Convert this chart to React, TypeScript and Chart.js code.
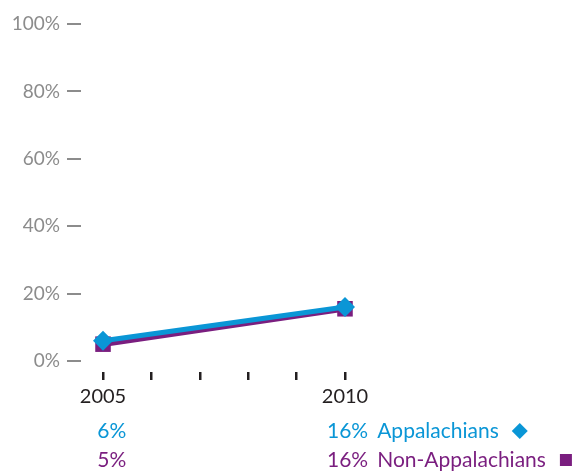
import React, { useEffect, useRef } from "react";
import { Chart, registerables } from "chart.js";

Chart.register(...registerables);

const years = [2005, 2010];
const appalachians = [6, 16];
const nonAppalachians = [5, 15.5];
const appLabels = ["6%", "16%"];
const nonAppLabels = ["5%", "16%"];
const seriesNames = ["Appalachians", "Non-Appalachians"];
const yTicks = [0, 20, 40, 60, 80, 100];

const BLUE = "#0a96d6";
const PURPLE = "#7a1e7f";
const GRAY = "#8c8c8c";
const DARK = "#231f20";
const FONT = "Lato, 'Open Sans', sans-serif";

const valuesPlugin = {
  id: "valuesPlugin",
  afterDraw(chart: any) {
    const ctx = chart.ctx;
    const xs = chart.scales.x;
    ctx.save();
    ctx.textBaseline = "alphabetic";
    years.forEach((yr, i) => {
      const px = xs.getPixelForValue(yr);
      ctx.font = `20px ${FONT}`;
      const w = ctx.measureText(String(yr)).width;
      const right = px + w / 2;
      ctx.font = `21px ${FONT}`;
      ctx.textAlign = "right";
      ctx.fillStyle = BLUE;
      ctx.fillText(appLabels[i], right, 438);
      ctx.fillStyle = PURPLE;
      ctx.fillText(nonAppLabels[i], right, 467);
      if (i === years.length - 1) {
        ctx.textAlign = "left";
        const x0 = right + 9;
        ctx.fillStyle = BLUE;
        ctx.fillText(seriesNames[0], x0, 438);
        const w1 = ctx.measureText(seriesNames[0]).width;
        ctx.fillStyle = PURPLE;
        ctx.fillText(seriesNames[1], x0, 467);
        const w2 = ctx.measureText(seriesNames[1]).width;
        const dx = x0 + w1 + 21;
        const dy = 431;
        const r = 8;
        ctx.fillStyle = BLUE;
        ctx.beginPath();
        ctx.moveTo(dx, dy - r);
        ctx.lineTo(dx + r, dy);
        ctx.lineTo(dx, dy + r);
        ctx.lineTo(dx - r, dy);
        ctx.closePath();
        ctx.fill();
        const sx = x0 + w2 + 14;
        ctx.fillStyle = PURPLE;
        ctx.fillRect(sx, 454, 12, 12);
      }
    });
    ctx.restore();
  },
};

export default function App() {
  const ref = useRef<HTMLCanvasElement | null>(null);
  useEffect(() => {
    if (!ref.current) return;
    const chart = new Chart(ref.current, {
      type: "line",
      data: {
        datasets: [
          {
            label: seriesNames[0],
            data: years.map((y, i) => ({ x: y, y: appalachians[i] })),
            borderColor: BLUE,
            backgroundColor: BLUE,
            borderWidth: 5,
            pointStyle: "rectRot",
            pointRadius: 10,
            pointBorderWidth: 0,
          },
          {
            label: seriesNames[1],
            data: years.map((y, i) => ({ x: y, y: nonAppalachians[i] })),
            borderColor: PURPLE,
            backgroundColor: PURPLE,
            borderWidth: 5.5,
            pointStyle: "rect",
            pointRadius: 11,
            pointBorderWidth: 0,
          },
        ],
      },
      options: {
        animation: false,
        responsive: true,
        maintainAspectRatio: false,
        layout: { padding: { top: 24, right: 215, bottom: 0, left: 0 } },
        plugins: { legend: { display: false }, tooltip: { enabled: false } },
        scales: {
          x: {
            type: "linear",
            min: 2004.545,
            max: 2010.31,
            afterFit: (s: any) => {
              s.height = 101;
            },
            border: { display: false },
            grid: {
              drawOnChartArea: false,
              drawTicks: true,
              tickLength: 8,
              tickColor: DARK,
              lineWidth: 2.5,
            },
            ticks: {
              stepSize: 1,
              includeBounds: false,
              autoSkip: false,
              maxRotation: 0,
              padding: 5,
              color: DARK,
              font: { family: FONT, size: 20 },
              callback: (v: any) => (years.includes(Number(v)) ? String(v) : ""),
            },
          },
          y: {
            min: -3.26,
            max: 100,
            afterFit: (s: any) => {
              s.width = 81;
            },
            afterBuildTicks: (s: any) => {
              s.ticks = yTicks.map((v) => ({ value: v }));
            },
            border: { display: false },
            grid: {
              drawOnChartArea: false,
              drawTicks: true,
              tickLength: 14,
              tickColor: GRAY,
              lineWidth: 2,
            },
            ticks: {
              padding: 7,
              color: GRAY,
              font: { family: FONT, size: 19 },
              callback: (v: any) => `${v}%`,
            },
          },
        },
      },
      plugins: [valuesPlugin],
    });
    return () => chart.destroy();
  }, []);
  return (
    <div style={{ position: "fixed", left: 0, top: 0, width: 575, height: 473 }}>
      <canvas ref={ref} />
    </div>
  );
}
